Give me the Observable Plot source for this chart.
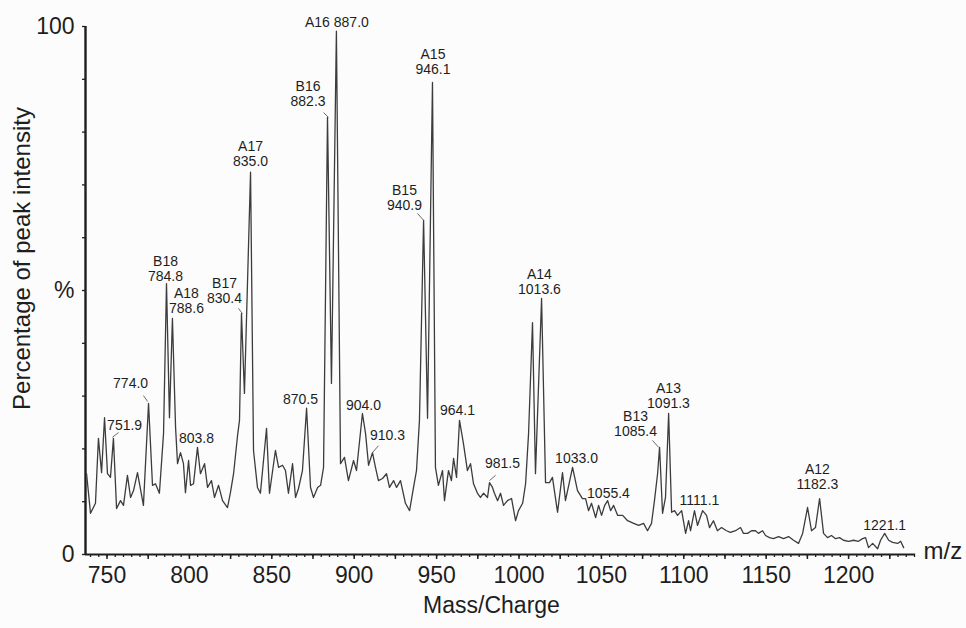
<!DOCTYPE html>
<html><head><meta charset="utf-8">
<script src="https://cdn.jsdelivr.net/npm/d3@7"></script>
<script src="https://cdn.jsdelivr.net/npm/@observablehq/plot@0.6"></script>
<style>
html,body{margin:0;padding:0;background:#fcfcfc;}
</style></head><body><div id="chart"></div>
<script>
// m/z values of the trace
const mzValues = [
737.6, 740.0, 743.0, 744.8, 746.7, 748.5, 750.3, 752.1, 753.9, 755.8,
758.2, 760.0, 762.4, 764.3, 766.1, 768.5, 772.1, 775.2, 777.6, 779.4,
781.8, 784.3, 786.1, 787.9, 789.7, 791.6, 792.8, 794.6, 796.4, 797.6,
799.5, 800.7, 802.5, 804.9, 806.7, 809.2, 811.0, 813.4, 815.2, 817.7,
820.1, 823.1, 824.9, 826.8, 829.2, 830.4, 831.6, 833.4, 837.1, 838.9,
841.3, 843.1, 846.8, 848.6, 852.2, 854.1, 856.5, 858.3, 860.1, 862.6,
864.4, 866.2, 868.6, 871.1, 873.5, 875.3, 877.8, 879.6, 881.4, 883.8,
886.2, 889.2, 891.7, 894.1, 896.5, 899.6, 901.4, 905.0, 906.9, 908.7,
911.1, 912.9, 914.7, 917.2, 919.6, 921.4, 923.9, 925.7, 928.1, 931.1,
933.6, 936.0, 937.8, 939.6, 942.1, 944.5, 947.5, 949.3, 951.1, 953.6,
954.8, 957.2, 959.0, 960.3, 962.1, 963.9, 966.3, 968.7, 970.6, 972.4,
974.8, 976.6, 978.5, 980.9, 982.1, 983.9, 985.1, 987.0, 988.8, 990.6,
993.0, 995.5, 997.9, 999.7, 1002.2, 1004.0, 1005.8, 1008.2, 1010.0, 1013.7,
1016.1, 1018.5, 1020.3, 1023.4, 1026.4, 1028.2, 1032.5, 1035.5, 1038.5, 1040.4,
1042.2, 1044.0, 1046.5, 1048.3, 1050.1, 1052.0, 1053.8, 1055.6, 1057.4, 1059.9,
1062.9, 1065.9, 1069.6, 1072.6, 1075.6, 1078.0, 1080.4, 1082.2, 1084.1, 1085.3,
1087.1, 1088.9, 1090.8, 1092.6, 1094.4, 1096.2, 1098.7, 1101.1, 1102.9, 1104.1,
1106.5, 1108.3, 1111.4, 1113.8, 1115.6, 1118.0, 1120.4, 1122.9, 1125.9, 1128.3,
1131.4, 1134.4, 1136.2, 1138.7, 1141.1, 1143.5, 1145.3, 1147.8, 1149.6, 1152.0,
1154.4, 1157.5, 1160.5, 1163.6, 1166.6, 1169.6, 1172.1, 1175.1, 1177.5, 1179.9,
1182.4, 1184.8, 1187.2, 1189.6, 1192.1, 1194.5, 1196.9, 1200.0, 1203.0, 1206.0,
1208.5, 1210.3, 1212.1, 1214.6, 1217.6, 1219.4, 1221.9, 1224.3, 1226.7, 1229.8,
1231.6, 1233.4
];
// percentage of peak intensity at each m/z
const intensityValues = [
15.3, 7.8, 9.7, 22.0, 15.5, 25.9, 15.3, 14.6, 22.0, 8.7,
10.2, 9.3, 15.0, 10.8, 12.1, 15.5, 9.3, 28.6, 13.1, 13.4,
11.6, 22.9, 51.3, 25.9, 44.7, 24.1, 17.2, 19.3, 17.2, 11.7,
17.8, 13.1, 13.4, 20.3, 15.3, 17.2, 12.7, 14.0, 10.8, 13.1,
10.2, 8.9, 11.7, 15.3, 22.5, 25.4, 45.6, 30.5, 72.4, 19.7,
12.7, 11.6, 23.9, 11.6, 19.7, 16.5, 16.9, 15.9, 11.6, 17.2,
10.8, 12.5, 15.9, 27.7, 12.7, 10.8, 12.7, 13.1, 16.5, 82.8,
32.4, 99.1, 17.2, 18.4, 14.0, 17.8, 15.9, 26.7, 22.9, 16.9,
19.3, 16.5, 14.0, 14.4, 15.3, 12.7, 14.0, 12.7, 14.0, 9.7,
8.3, 12.7, 15.9, 25.4, 63.3, 25.8, 89.4, 16.5, 13.1, 15.9,
10.2, 15.9, 14.0, 18.2, 14.6, 25.4, 21.0, 15.9, 17.2, 13.4,
11.6, 10.8, 11.6, 10.8, 13.6, 12.7, 11.6, 10.2, 11.6, 9.3,
10.2, 10.6, 6.4, 8.3, 9.7, 13.4, 22.9, 43.9, 15.3, 48.5,
13.6, 13.6, 14.6, 8.0, 15.5, 10.2, 16.5, 12.1, 10.6, 10.6,
8.3, 9.7, 7.0, 9.3, 7.4, 9.3, 10.2, 8.3, 9.3, 7.4,
7.4, 6.4, 5.9, 5.5, 5.9, 4.5, 5.9, 10.2, 15.3, 20.3,
7.8, 10.8, 26.7, 8.0, 8.3, 7.4, 8.3, 4.0, 6.4, 4.5,
8.3, 5.5, 8.3, 7.4, 5.1, 6.4, 4.5, 5.1, 4.5, 4.2,
4.5, 5.1, 4.0, 4.0, 4.5, 4.5, 4.0, 4.5, 3.6, 3.2,
3.0, 3.4, 3.0, 3.4, 2.7, 2.1, 4.0, 8.9, 4.5, 5.1,
10.6, 4.0, 3.2, 3.6, 3.0, 3.2, 2.7, 2.5, 2.7, 2.5,
3.0, 3.2, 1.3, 2.1, 1.1, 2.7, 4.0, 2.7, 2.3, 2.1,
2.5, 1.3
];

// peak annotations
const peakLabelText = ["A16 887.0", "B16\n882.3", "A17\n835.0", "A15\n946.1", "B15\n940.9",
  "B18\n784.8", "A18\n788.6", "B17\n830.4", "A14\n1013.6", "B13\n1085.4", "A13\n1091.3",
  "A12\n1182.3", "774.0", "751.9", "803.8", "870.5", "904.0", "910.3", "964.1", "981.5",
  "1033.0", "1055.4", "1111.1", "1221.1"];
const peakLabelMz = [889.5, 872.0, 837.1, 947.8, 930.5, 785.5, 798.2, 821.3, 1012.4, 1070.7,
  1090.7, 1181.1, 764.3, 760.7, 804.3, 867.4, 905.6, 920.2, 962.7, 990.0, 1034.9, 1054.3,
  1109.5, 1221.9];
const peakLabelIntensity = [100.9, 87.2, 75.9, 93.3, 67.6, 54.2, 48.1, 49.9, 51.7, 24.7,
  30.0, 14.8, 32.4, 24.4, 22.0, 29.4, 28.2, 22.5, 27.3, 17.2, 18.2, 11.7, 10.2, 5.5];

// leader lines from label to peak
const leaderMz1 = [757.0, 772.1, 881.4, 938.4, 829.8, 914.7, 985.8, 1081.0];
const leaderI1  = [23.1, 30.1, 83.7, 64.6, 46.6, 20.6, 15.0, 21.6];
const leaderMz2 = [753.3, 774.6, 884.4, 942.1, 832.2, 911.1, 982.1, 1084.7];
const leaderI2  = [22.2, 29.0, 82.8, 63.3, 45.6, 19.3, 14.0, 20.3];

// axes
const xTickLabels = [750, 800, 850, 900, 950, 1000, 1050, 1100, 1150, 1200];
const xMinorTicks = d3.range(740, 1241, 5);
const xMidTicks = d3.range(750, 1241, 25);
const yMinorTicks = d3.range(0, 101, 10);
const yTickValues = [0, 50, 100];
const yTickText = ["0", "%", "100"];
const xTitle = "Mass/Charge";
const yTitle = "Percentage of peak intensity";
const unitText = "m/z";
const xDomain = [736.95, 1240.6];

const trace = mzValues.map((m, i) => ({mz: m, pct: intensityValues[i]}));
const labels = peakLabelText.map((t, i) => ({text: t, mz: peakLabelMz[i], pct: peakLabelIntensity[i]}));
const leaders = leaderMz1.map((m, i) => ({x1: m, y1: leaderI1[i], x2: leaderMz2[i], y2: leaderI2[i]}));

const ink = "#1e1e1e";
const chart = Plot.plot({
  width: 966,
  height: 628,
  marginLeft: 85,
  marginRight: 51,
  marginTop: 26,
  marginBottom: 74,
  style: {background: "#fcfcfc", fontFamily: "'Liberation Sans', Arial, sans-serif", color: ink},
  x: {domain: xDomain},
  y: {domain: [0, 100]},
  marks: [
    Plot.axisY({ticks: yMinorTicks, tickSize: 3, tickFormat: () => "", stroke: ink, strokeWidth: 1.3, label: null}),
    Plot.axisY({ticks: yTickValues, tickSize: 0, tickPadding: 11, fontSize: 23, label: null,
      tickFormat: d => yTickText[yTickValues.indexOf(d)], fill: ink}),
    Plot.axisX({ticks: xMinorTicks, tickSize: 3, tickFormat: () => "", stroke: ink, strokeWidth: 1.3, label: null}),
    Plot.axisX({ticks: xMidTicks, tickSize: 5, tickFormat: () => "", stroke: ink, strokeWidth: 1.5, label: null}),
    Plot.axisX({ticks: xTickLabels, tickSize: 0, tickPadding: 12, fontSize: 23, label: null, fill: ink,
      tickFormat: d => String(d)}),
    Plot.ruleX([xDomain[0]], {stroke: ink, strokeWidth: 2.4}),
    Plot.ruleY([0], {stroke: ink, strokeWidth: 2.2}),
    Plot.line(trace, {x: "mz", y: "pct", stroke: "#3c3c3c", strokeWidth: 1.3}),
    Plot.link(leaders, {x1: "x1", y1: "y1", x2: "x2", y2: "y2", stroke: "#6a6a6a", strokeWidth: 1}),
    Plot.text(labels, {x: "mz", y: "pct", text: "text", fontSize: 14, lineHeight: 1.07, fill: ink}),
    Plot.text([xTitle], {frameAnchor: "bottom", dx: -9, dy: 58, fontSize: 23, fill: ink}),
    Plot.text([yTitle], {frameAnchor: "left", textAnchor: "middle", rotate: -90, dx: -63, dy: -32, fontSize: 24, fill: ink}),
    Plot.text([unitText], {frameAnchor: "bottom-right", dx: 8, dy: 4, textAnchor: "start", fontSize: 24, fill: ink})
  ]
});
document.getElementById("chart").appendChild(chart);
</script>
</body></html>
